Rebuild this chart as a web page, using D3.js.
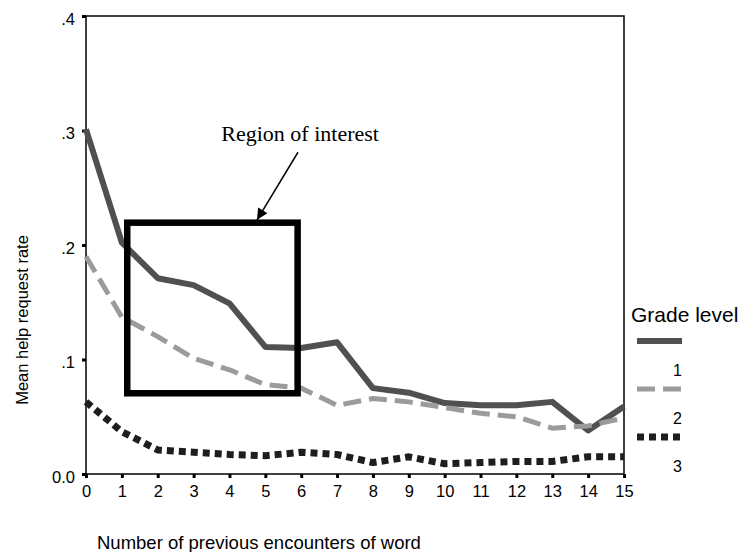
<!DOCTYPE html>
<html>
<head>
<meta charset="utf-8">
<script src="https://cdn.jsdelivr.net/npm/d3@7/dist/d3.min.js"></script>
<style>
  html, body { margin: 0; padding: 0; background: #fff; }
  svg { display: block; }
</style>
</head>
<body>
<svg id="chart" width="755" height="552"></svg>
<script>
// ---- data ----
const encounters = [0,1,2,3,4,5,6,7,8,9,10,11,12,13,14,15];
const grade1 = [0.301,0.202,0.171,0.165,0.149,0.111,0.110,0.115,0.075,0.071,0.062,0.060,0.060,0.063,0.038,0.059];
const grade2 = [0.190,0.137,0.120,0.101,0.091,0.078,0.075,0.060,0.066,0.063,0.058,0.053,0.050,0.040,0.042,0.049];
const grade3 = [0.063,0.037,0.021,0.019,0.017,0.016,0.019,0.017,0.010,0.015,0.009,0.010,0.011,0.011,0.015,0.015];
const seriesNames = ["1","2","3"];
const yTickValues = [0, 0.1, 0.2, 0.3, 0.4];
const yTickLabels = ["0.0", ".1", ".2", ".3", ".4"];
const xTickValues = encounters;
const roiBox = {x0: 1.15, x1: 5.9, y0: 0.0705, y1: 0.2195};
const roiArrow = {fromX: 5.91, fromY: 0.281, toX: 4.77, toY: 0.222};
const roiLabel = {x: 5.97, y: 0.291, text: "Region of interest"};

// ---- layout ----
const SANS = "Liberation Sans, Arial, sans-serif";
const SERIF = "Liberation Serif, Times New Roman, serif";
const svg = d3.select("#chart");
const L = 86, R = 624, T = 16, B = 474;
const x = d3.scaleLinear().domain([0, 15]).range([L, R]);
const y = d3.scaleLinear().domain([0, 0.4]).range([B, T]);

// frame
svg.append("rect").attr("x", L).attr("y", T).attr("width", R - L).attr("height", B - T)
  .attr("fill", "none").attr("stroke", "#000").attr("stroke-width", 1.5);

// y axis
const yAxis = d3.axisLeft(y).tickValues(yTickValues).tickSize(4).tickPadding(7)
  .tickFormat((d, i) => yTickLabels[i]);
const gy = svg.append("g").attr("transform", `translate(${L},0)`).call(yAxis);
gy.select(".domain").remove();
gy.selectAll(".tick line").attr("stroke", "#000").attr("stroke-width", 3);
gy.selectAll(".tick text").style("font-size", "16.5px").style("font-family", SANS).attr("fill", "#000").attr("dy", "0.5em");

// x axis
const xAxis = d3.axisBottom(x).tickValues(xTickValues).tickSize(4).tickPadding(7).tickFormat(d3.format("d"));
const gx = svg.append("g").attr("transform", `translate(0,${B})`).call(xAxis);
gx.select(".domain").remove();
gx.selectAll(".tick line").attr("stroke", "#000").attr("stroke-width", 3);
gx.selectAll(".tick text").style("font-size", "16.5px").style("font-family", SANS).attr("fill", "#000");

// axis titles
svg.append("text").attr("x", 97).attr("y", 549).style("font-size", "18.5px").style("font-family", SANS)
  .text("Number of previous encounters of word");
svg.append("text").attr("transform", "translate(28,320) rotate(-90)").attr("text-anchor", "middle")
  .style("font-size", "16.5px").style("font-family", SANS).text("Mean help request rate");

// series
const styles = [
  {data: grade1, color: "#505050", width: 6, dash: null},
  {data: grade2, color: "#9b9b9b", width: 5, dash: "18,8"},
  {data: grade3, color: "#1e1e1e", width: 7, dash: "7,5"}
];
const line = d3.line().x((d, i) => x(encounters[i])).y(d => y(d));
styles.forEach(s => {
  svg.append("path").datum(s.data).attr("d", line)
    .attr("fill", "none").attr("stroke", s.color).attr("stroke-width", s.width)
    .attr("stroke-dasharray", s.dash).attr("stroke-linejoin", "round");
});

// region of interest box
svg.append("rect")
  .attr("x", x(roiBox.x0)).attr("y", y(roiBox.y1))
  .attr("width", x(roiBox.x1) - x(roiBox.x0)).attr("height", y(roiBox.y0) - y(roiBox.y1))
  .attr("fill", "none").attr("stroke", "#000").attr("stroke-width", 6.5);

// arrow
svg.append("defs").append("marker").attr("id", "ah").attr("viewBox", "0 0 10 10")
  .attr("refX", 10).attr("refY", 5).attr("markerWidth", 12).attr("markerHeight", 11)
  .attr("markerUnits", "userSpaceOnUse").attr("orient", "auto")
  .append("path").attr("d", "M0,0 L10,5 L0,10 z").attr("fill", "#000");
svg.append("line")
  .attr("x1", x(roiArrow.fromX)).attr("y1", y(roiArrow.fromY))
  .attr("x2", x(roiArrow.toX)).attr("y2", y(roiArrow.toY))
  .attr("stroke", "#000").attr("stroke-width", 1.5).attr("marker-end", "url(#ah)");
svg.append("text").attr("x", x(roiLabel.x)).attr("y", y(roiLabel.y)).attr("text-anchor", "middle")
  .style("font-family", SERIF).style("font-size", "22px")
  .text(roiLabel.text);

// legend
svg.append("text").attr("x", 631).attr("y", 322).style("font-size", "21px").style("font-family", SANS).text("Grade level");
const legY = [341, 389, 437];
styles.forEach((s, i) => {
  svg.append("line").attr("x1", 637).attr("x2", 682).attr("y1", legY[i]).attr("y2", legY[i])
    .attr("stroke", s.color).attr("stroke-width", s.width).attr("stroke-dasharray", s.dash);
  svg.append("text").attr("x", 682).attr("y", legY[i] + 35).attr("text-anchor", "end")
    .style("font-size", "16px").style("font-family", SANS).text(seriesNames[i]);
});
</script>
</body>
</html>
